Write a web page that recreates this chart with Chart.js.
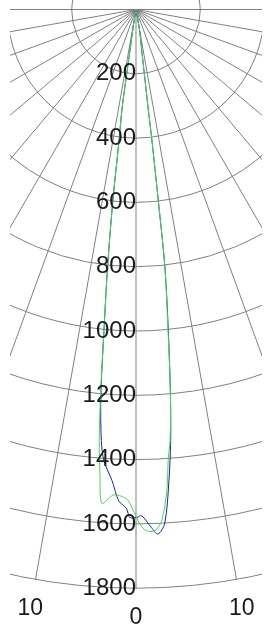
<!DOCTYPE html>
<html>
<head>
<meta charset="utf-8">
<script src="https://cdn.jsdelivr.net/npm/chart.js@4.4.0/dist/chart.umd.min.js"></script>
<style>
  html, body { margin: 0; padding: 0; background: #fff; }
  #wrap { width: 269px; height: 628px; position: relative; }
</style>
</head>
<body>
<div id="wrap"><canvas id="polar"></canvas></div>
<script>
// polar grid: intensity rings (cd) and angle spokes (deg from nadir)
const ringValues = [200, 400, 600, 800, 1000, 1200, 1400, 1600, 1800];
const spokeAngles = [-90, -80, -70, -60, -50, -40, -30, -20, -10, 0, 10, 20, 30, 40, 50, 60, 70, 80, 90];
const angleTicks = [-10, 0, 10];
const angleTickText = ['10', '0', '10'];
const angleTickRadius = 1893;

// blue curve, left to right
const blueAngles = [-12, -9.0, -8.4, -8.2, -8.0, -7.4, -6.9, -6.3, -5.7, -5.2, -4.6, -4.05, -2.9, -2.0, -1.1, -0.7, 0.1, 0.65, 1.7, 2.4, 3.2, 4.0, 4.6, 5.1, 5.75, 6.4, 6.65, 6.95, 7.0, 7.3, 8.0, 9.7, 12];
const blueValues = [8, 65, 128, 222, 316, 404, 600, 806, 1003, 1206, 1345, 1408, 1468, 1530, 1552, 1580, 1580, 1575, 1612, 1633, 1601, 1469, 1345, 1206, 1003, 806, 600, 403, 315, 221, 127, 65, 8];

// green curve
const greenAngles = [-12, -9.0, -8.4, -8.2, -8.0, -7.4, -6.9, -6.3, -5.7, -5.25, -4.87, -4.44, -3.95, -2.7, -1.7, -0.9, 0.45, 1.18, 2.09, 2.88, 3.66, 4.13, 4.52, 5.1, 5.7, 6.4, 6.65, 6.95, 7.0, 7.3, 8.0, 9.7, 12];
const greenValues = [8, 65, 128, 222, 316, 404, 600, 806, 1003, 1206, 1346, 1448, 1540, 1512, 1515, 1528, 1601, 1622, 1622, 1592, 1500, 1397, 1345, 1206, 1003, 806, 600, 403, 315, 221, 127, 65, 8];

const rad = a => a * Math.PI / 180;
function toXY(angles, values) {
  return angles.map((a, i) => ({ x: values[i] * Math.sin(rad(a)), y: -values[i] * Math.cos(rad(a)) }));
}

const polarGrid = {
  id: 'polarGrid',
  beforeDatasetsDraw(chart) {
    const { ctx, chartArea, scales: { x, y } } = chart;
    const cx = x.getPixelForValue(0), cy = y.getPixelForValue(0);
    ctx.save();
    ctx.beginPath();
    ctx.rect(chartArea.left, chartArea.top, chartArea.width, chartArea.height);
    ctx.clip();
    ctx.strokeStyle = '#808080';
    ctx.lineWidth = 1;
    ringValues.forEach(v => {
      ctx.beginPath();
      ctx.arc(cx, cy, y.getPixelForValue(-v) - cy, 0, Math.PI * 2);
      ctx.stroke();
    });
    const rMax = ringValues[ringValues.length - 1];
    spokeAngles.forEach(a => {
      ctx.beginPath();
      ctx.moveTo(cx, cy);
      ctx.lineTo(x.getPixelForValue(rMax * Math.sin(rad(a))), y.getPixelForValue(-rMax * Math.cos(rad(a))));
      ctx.stroke();
    });
    ctx.restore();
  },
  afterDraw(chart) {
    const { ctx, scales: { x, y } } = chart;
    const cx = x.getPixelForValue(0);
    ctx.save();
    ctx.fillStyle = '#1a1a1a';
    ctx.font = '24px "Liberation Sans", Arial, sans-serif';
    ctx.textBaseline = 'middle';
    ctx.textAlign = 'right';
    ringValues.forEach(v => ctx.fillText(String(v), cx, y.getPixelForValue(-v)));
    ctx.font = '23px "Liberation Sans", Arial, sans-serif';
    ctx.textAlign = 'center';
    angleTicks.forEach((a, i) => {
      ctx.fillText(angleTickText[i],
        x.getPixelForValue(angleTickRadius * Math.sin(rad(a))),
        y.getPixelForValue(-angleTickRadius * Math.cos(rad(a))));
    });
    ctx.restore();
  }
};

new Chart(document.getElementById('polar'), {
  type: 'scatter',
  data: {
    datasets: [
      { label: 'green', data: toXY(greenAngles, greenValues), showLine: true, borderColor: '#44dd44', borderWidth: 1, pointRadius: 0, tension: 0.3 },
      { label: 'blue', data: toXY(blueAngles, blueValues), showLine: true, borderColor: '#1c1cb4', borderWidth: 1, pointRadius: 0, tension: 0.3 },
    ]
  },
  options: {
    responsive: true,
    maintainAspectRatio: false,
    animation: false,
    layout: { padding: { left: 10, right: 7, top: 0, bottom: 0 } },
    plugins: { legend: { display: false }, tooltip: { enabled: false } },
    scales: {
      x: { type: 'linear', display: false, min: -391.9, max: 391.9 },
      y: { type: 'linear', display: false, min: -1923.8, max: 29.55 }
    }
  },
  plugins: [polarGrid]
});
</script>
</body>
</html>
